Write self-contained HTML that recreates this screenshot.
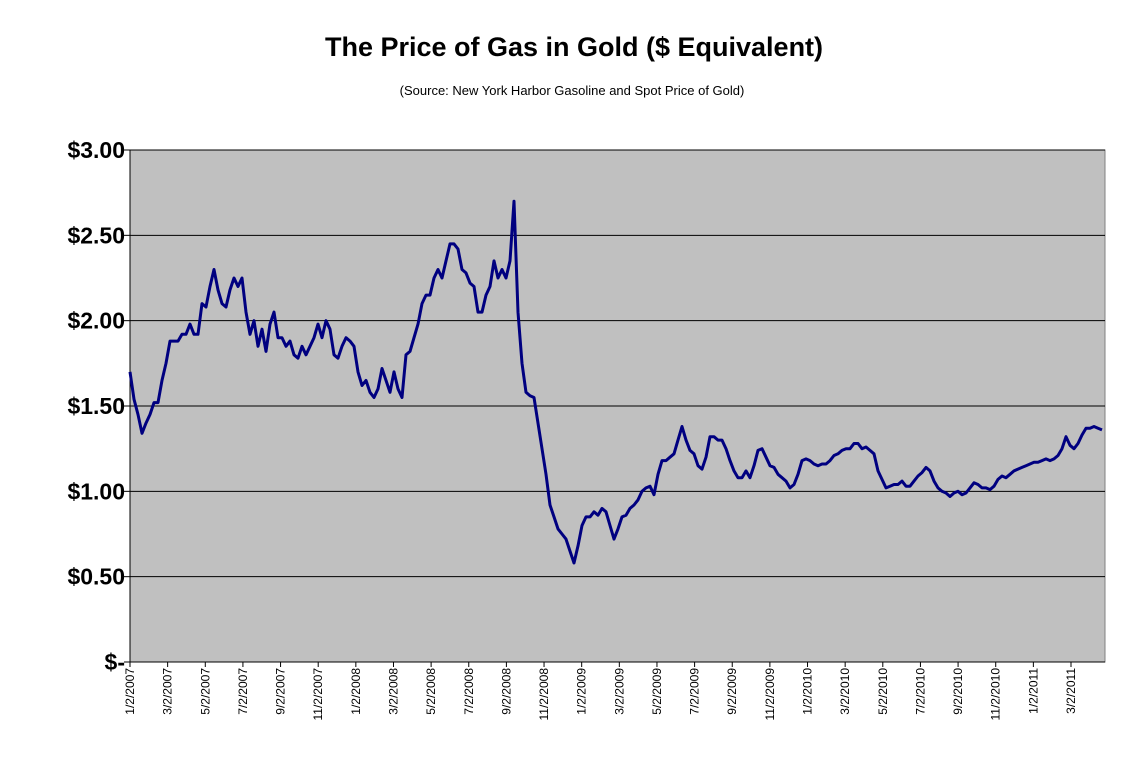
<!DOCTYPE html>
<html><head><meta charset="utf-8"><style>
body{margin:0;background:#fff;}
svg text{font-family:"Liberation Sans",Arial,sans-serif;}
</style></head><body>
<svg id="c" width="1138" height="778">
<text x="574" y="56" text-anchor="middle" font-size="27" font-weight="bold">The Price of Gas in Gold ($ Equivalent)</text>
<text x="572" y="95" text-anchor="middle" font-size="13">(Source: New York Harbor Gasoline and Spot Price of Gold)</text>
<rect x="130" y="150" width="975" height="512" fill="#c0c0c0" stroke="#808080"/>
<g id="grid"></g><g id="yax"></g><g id="xax"></g><g id="ser"></g>
</svg>
<script>
const yTicks=[0,0.5,1,1.5,2,2.5,3];
const yLabels=["$-","$0.50","$1.00","$1.50","$2.00","$2.50","$3.00"];
const xLabels=["1/2/2007","3/2/2007","5/2/2007","7/2/2007","9/2/2007","11/2/2007","1/2/2008","3/2/2008","5/2/2008","7/2/2008","9/2/2008","11/2/2008","1/2/2009","3/2/2009","5/2/2009","7/2/2009","9/2/2009","11/2/2009","1/2/2010","3/2/2010","5/2/2010","7/2/2010","9/2/2010","11/2/2010","1/2/2011","3/2/2011"];
const xLabelMonths=[0,2,4,6,8,10,12,14,16,18,20,22,24,26,28,30,32,34,36,38,40,42,44,46,48,50];
const values=[1.70,1.54,1.45,1.34,1.40,1.45,1.52,1.52,1.65,1.75,1.88,1.88,1.88,1.92,1.92,1.98,1.92,1.92,2.10,2.08,2.20,2.30,2.18,2.10,2.08,2.18,2.25,2.20,2.25,
2.05,1.92,2.00,1.85,1.95,1.82,1.98,2.05,1.90,1.90,1.85,1.88,1.80,1.78,1.85,1.80,1.85,1.90,1.98,1.90,2.00,1.95,1.80,1.78,1.85,1.90,1.88,1.85,1.70,1.62,1.65,1.58,1.55,1.60,1.72,1.65,1.58,1.70,
1.60,1.55,1.80,1.82,1.90,1.98,2.10,2.15,2.15,2.25,2.30,2.25,2.35,2.45,2.45,2.42,2.30,2.28,2.22,2.20,2.05,2.05,2.15,2.20,2.35,2.25,2.30,2.25,2.35,
2.70,2.05,1.75,1.58,1.56,1.55,1.40,1.25,1.10,0.92,0.85,0.78,0.75,0.72,0.65,0.58,0.68,0.80,0.85,0.85,0.88,0.86,0.90,0.88,0.80,0.72,0.78,0.85,0.86,0.90,0.92,0.95,1.00,1.02,1.03,0.98,1.10,
1.18,1.18,1.20,1.22,1.30,1.38,1.30,1.24,1.22,1.15,1.13,1.20,1.32,1.32,1.30,1.30,1.25,1.18,1.12,1.08,1.08,1.12,1.08,1.15,1.24,1.25,1.20,1.15,1.14,1.10,1.08,1.06,1.02,1.04,1.10,1.18,1.19,1.18,1.16,1.15,1.16,1.16,1.18,1.21,1.22,1.24,1.25,1.25,1.28,1.28,1.25,1.26,1.24,1.22,1.12,1.07,1.02,1.03,1.04,1.04,1.06,1.03,1.03,1.06,1.09,1.11,1.14,1.12,1.06,1.02,1.00,0.99,0.97,0.99,1.00,0.98,0.99,1.02,1.05,1.04,1.02,1.02,1.01,1.03,1.07,1.09,1.08,1.10,1.12,1.13,1.14,1.15,1.16,1.17,1.17,1.18,1.19,1.18,1.19,1.21,1.25,1.32,1.27,1.25,1.28,1.33,1.37,1.37,1.38,1.37,1.36];
const NS="http://www.w3.org/2000/svg";
const X0=130,X1=1105,Y0=662,Y1=150,monthPx=37.64/2;
const yS=v=>Y0-(v/3)*(Y0-Y1);
const xM=m=>X0+m*monthPx;
const monthsSpan=(1102-130)/monthPx;
const xI=i=>xM(i/(values.length-1)*monthsSpan);
function mk(t,a,p){const e=document.createElementNS(NS,t);for(const k in a)e.setAttribute(k,a[k]);p.appendChild(e);return e;}
const grid=document.getElementById('grid'),yax=document.getElementById('yax'),xax=document.getElementById('xax'),ser=document.getElementById('ser');
yTicks.forEach((v,i)=>{
 if(v>0){const g=mk('line',{x1:X0,x2:X1,y1:yS(v),y2:yS(v),stroke:'#000','stroke-width':1},grid);
 
 }
 const t=mk('line',{x1:X0-6,x2:X0,y1:yS(v),y2:yS(v),stroke:'#000'},yax);
 const l=mk('text',{x:X0-5,y:yS(v)+8,'text-anchor':'end','font-size':23,'font-weight':'bold'},yax);
 l.textContent=yLabels[i];
 
 
});
mk('line',{x1:X0,x2:X0,y1:Y1,y2:Y0,stroke:'#000'},yax);
mk('line',{x1:X0,x2:X1,y1:Y0,y2:Y0,stroke:'#000'},xax);
xLabels.forEach((s,i)=>{
 const x=xM(xLabelMonths[i]);
 mk('line',{x1:x,x2:x,y1:Y0,y2:Y0+5,stroke:'#000'},xax);
 const t=mk('text',{x:0,y:0,'text-anchor':'end','font-size':12,transform:`translate(${x+4},${Y0+6}) rotate(-90)`},xax);
 t.textContent=s;
 
 
});
const p=mk('polyline',{points:values.map((v,i)=>xI(i).toFixed(1)+','+yS(v).toFixed(1)).join(' '),fill:'none',stroke:'#000080','stroke-width':3,'stroke-linejoin':'round'},ser);


</script>
</body></html>
